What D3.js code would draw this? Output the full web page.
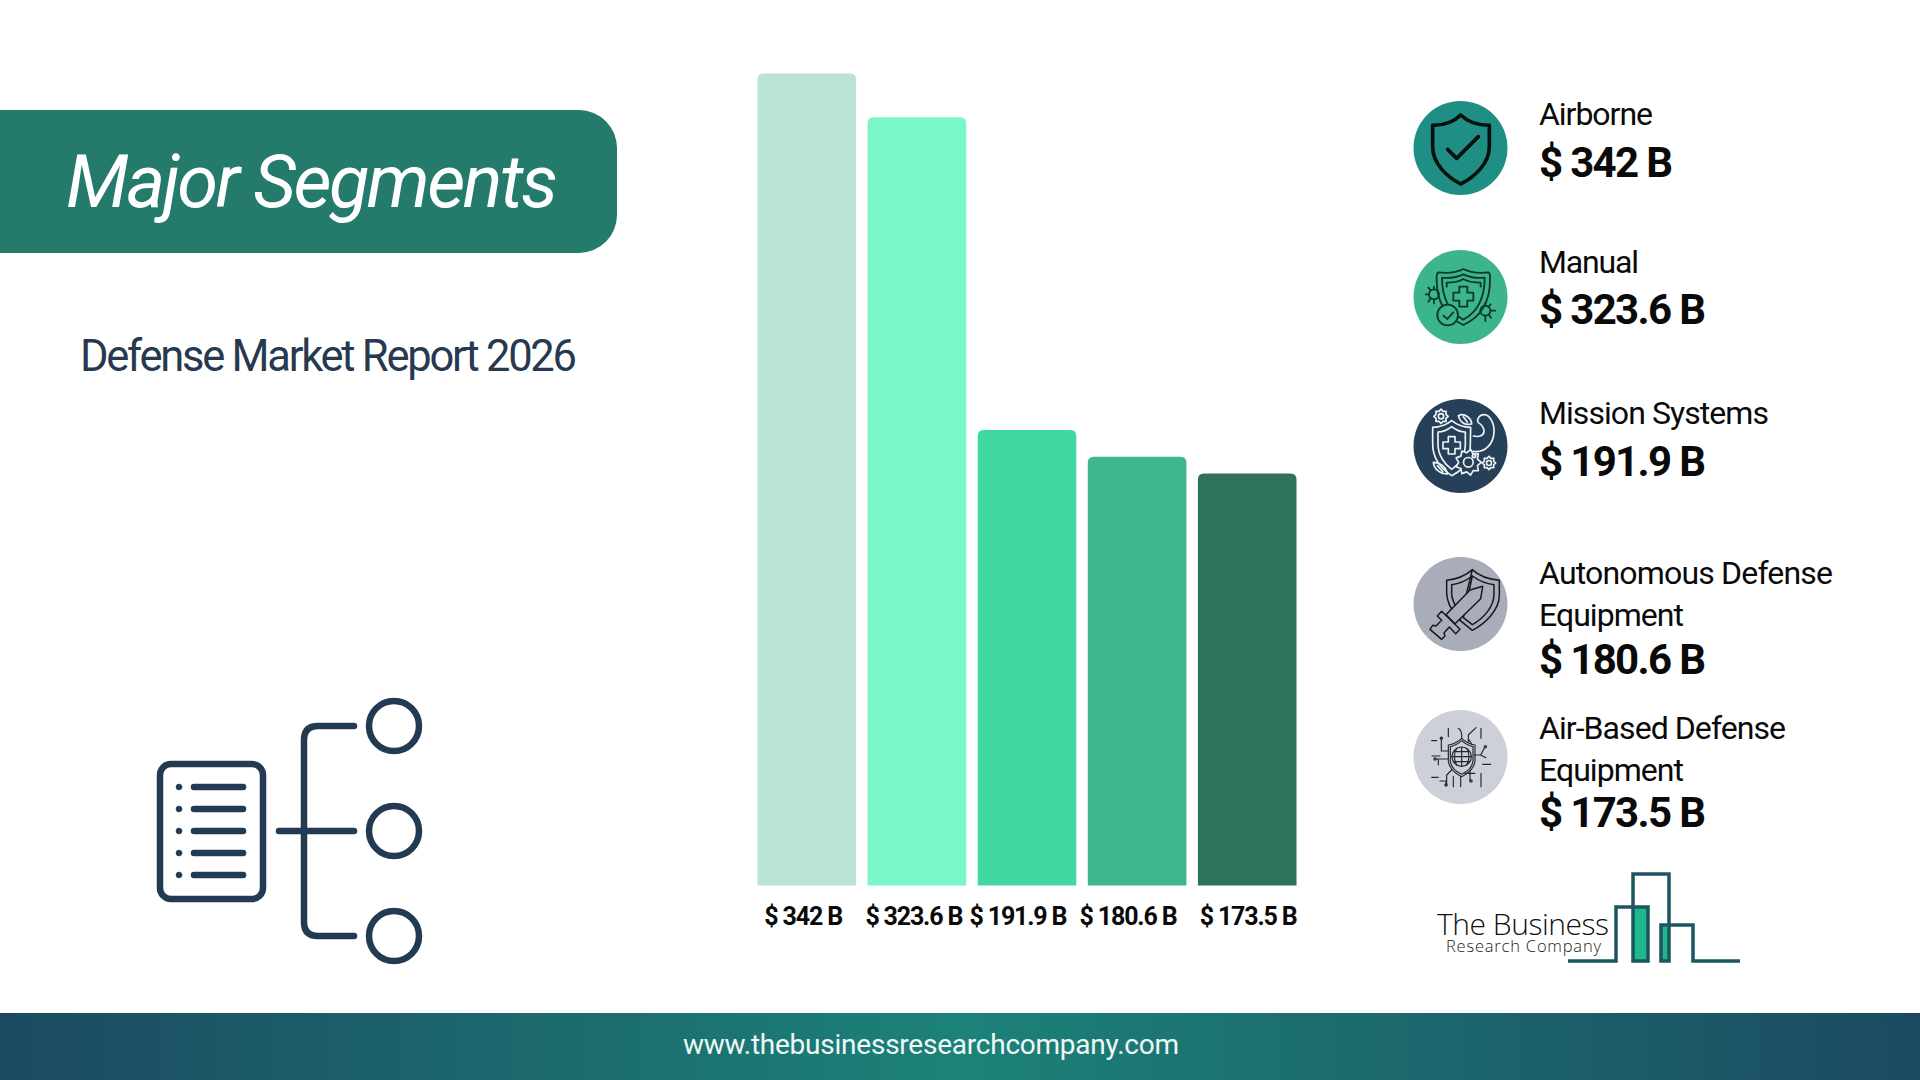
<!DOCTYPE html>
<html>
<head>
<meta charset="utf-8">
<script src="https://cdn.jsdelivr.net/npm/d3@7"></script>
<style>
html,body{margin:0;padding:0;background:#fff;}
svg{display:block;}
text{font-family:Roboto,sans-serif;}
</style>
</head>
<body>
<svg id="chart" width="1920" height="1080"></svg>
<script>
// ---- data ----
const categories = ["Airborne","Manual","Mission Systems","Autonomous Defense Equipment","Air-Based Defense Equipment"];
const values = [342,323.6,191.9,180.6,173.5];
const categoryLines = [["Airborne"],["Manual"],["Mission Systems"],["Autonomous Defense","Equipment"],["Air-Based Defense","Equipment"]];
const barColors = ["#b9e3d3","#7af7c7","#3fd9a0","#3fb68b","#2f725a"];
const titleText = "Major Segments";
const subtitleText = "Defense Market Report 2026";
const footerText = "www.thebusinessresearchcompany.com";

// ---- layout (separate from data) ----
const svg = d3.select("#chart");
const defs = svg.append("defs");
const fmt = v => `$ ${v} B`;
function txt(p,s,x,y,size,weight,fill,len,style){
  const t = p.append("text").attr("x",x).attr("y",y).attr("font-size",size)
    .attr("font-weight",weight).attr("fill",fill).text(s);
  if(len) t.attr("textLength",len).attr("lengthAdjust","spacing");
  if(style) t.attr("font-style",style);
  return t;
}

// footer
const grad = defs.append("linearGradient").attr("id","foot");
[[0,"#1b4a60"],[0.5,"#1c8279"],[1,"#1b4a60"]].forEach(s=>grad.append("stop").attr("offset",s[0]).attr("stop-color",s[1]));
svg.append("rect").attr("x",0).attr("y",1013).attr("width",1920).attr("height",67).attr("fill","url(#foot)");
txt(svg,footerText,683,1054,28,400,"#eef8f6",496);

// title pill
svg.append("rect").attr("x",-60).attr("y",110).attr("width",677).attr("height",143).attr("rx",38).attr("fill","#257b6b");
txt(svg,titleText,66,207,74,400,"#ffffff",492,"italic");
txt(svg,subtitleText,80,371,43.5,400,"#26394f",497);

// list-tree icon
const ic = svg.append("g").attr("fill","none").attr("stroke","#223a52").attr("stroke-width",6.5).attr("stroke-linecap","round");
ic.append("rect").attr("x",160).attr("y",764).attr("width",103).attr("height",135).attr("rx",11);
d3.range(5).forEach(i=>{
  const y=787+22*i;
  ic.append("line").attr("x1",194).attr("x2",243).attr("y1",y).attr("y2",y);
  ic.append("circle").attr("cx",179).attr("cy",y).attr("r",3).attr("fill","#223a52").attr("stroke-width",0.5);
});
ic.append("path").attr("d","M354 726 H318 Q304 726 304 740 V922 Q304 936 318 936 H354");
ic.append("path").attr("d","M279 831 H354");
[726,831,936].forEach(y=>ic.append("circle").attr("cx",394).attr("cy",y).attr("r",25).attr("stroke-width",6.5));

// bars
const x = d3.scaleBand().domain(categories).range([757.5,1296.5]).paddingInner(0.1045).paddingOuter(0);
const y = d3.scaleLinear().domain([0,342]).range([885.5,73.5]);
const barPath = (d)=>{
  const x0=x(d.c), w=x.bandwidth(), t=y(d.v), b=y(0), r=6;
  const p=d3.path();
  p.moveTo(x0,b); p.lineTo(x0,t+r); p.quadraticCurveTo(x0,t,x0+r,t);
  p.lineTo(x0+w-r,t); p.quadraticCurveTo(x0+w,t,x0+w,t+r); p.lineTo(x0+w,b); p.closePath();
  return p.toString();
};
const rows = categories.map((c,i)=>({c,v:values[i],col:barColors[i]}));
svg.append("g").selectAll("path").data(rows).join("path").attr("d",barPath).attr("fill",d=>d.col);

// value axis labels
const labelDx = [-3,-2.5,-8.5,-8.5,1.5];
const labelLen = [79,98,98,98,98];
const ax = svg.append("g").attr("transform","translate(0,885.5)")
  .call(d3.axisBottom(x).tickSize(0).tickPadding(0).tickFormat((c,i)=>fmt(values[i])));
ax.select(".domain").remove();
ax.selectAll("text").attr("font-family","Roboto,sans-serif").attr("font-size",25).attr("font-weight",700).attr("fill","#0a0a0a")
  .attr("y",39.5).attr("dy",0).attr("dx",(d,i)=>labelDx[i])
  .attr("textLength",(d,i)=>labelLen[i]).attr("lengthAdjust","spacing");

// legend
const circleY=[148,297,446,604,757];
const circleFill=["#1f8f85","#3cb58a","#264059","#a9adba","#cdcfd9"];
const lineBase=[[125],[273],[424],[584,626],[739,781]];
const lineLen=[[114],[100],[230],[294,145],[247,145]];
const valBase=[177,324,476,674,827];
const valLen=[134,167,167,167,167];
categories.forEach((c,i)=>{
  svg.append("circle").attr("cx",1460.5).attr("cy",circleY[i]).attr("r",47).attr("fill",circleFill[i]);
  categoryLines[i].forEach((s,j)=>txt(svg,s,1539,lineBase[i][j],32,400,"#0a0a0a",lineLen[i][j]));
  txt(svg,fmt(values[i]),1539,valBase[i],42,700,"#0a0a0a",valLen[i]);
});

// icons (drawn in 3x crop coordinates)
function icon(cx,cy,stroke,sw){
  return svg.append("g").attr("transform",`translate(${cx},${cy}) scale(${1/3})`)
    .attr("fill","none").attr("stroke",stroke).attr("stroke-width",sw).attr("stroke-linejoin","round").attr("stroke-linecap","round");
}
function gear(g,cx,cy,r,n,fill){
  const pts=[];
  for(let k=0;k<n*2;k++){const a=k*Math.PI/n, R=k%2?r:r*1.35; pts.push([cx+R*Math.cos(a),cy+R*Math.sin(a)]);}
  g.append("path").attr("d",d3.line().curve(d3.curveLinearClosed)(pts)).attr("fill",fill||"none");
  g.append("circle").attr("cx",cx).attr("cy",cy).attr("r",r*0.5);
}
// 1 shield + check
const i1=icon(1380,80,"#06100f",11);
i1.append("path").attr("d","M242 105 C218 130 190 136 158 136 L158 200 C158 250 200 290 242 312 C285 290 328 250 328 200 L328 136 C295 136 268 130 242 105 Z");
i1.append("path").attr("d","M203 208 L230 235 L295 170");
// 2 shield + bugs
const i2=icon(1410,245,"#0b3a2c",5.5);
i2.append("path").attr("d","M160 72 C135 85 110 85 85 82 C78 85 80 95 80 105 C80 165 105 215 160 240 C215 215 240 165 240 105 C240 95 242 85 235 82 C210 85 185 85 160 72 Z");
i2.append("path").attr("d","M160 88 C140 98 118 100 96 98 C96 160 120 202 160 224 C200 202 224 160 224 98 C202 100 180 98 160 88 Z");
i2.append("path").attr("d","M110 125 L110 113 C135 113 150 108 160 102 C170 108 185 113 212 113 L212 125");
i2.append("path").attr("d","M148 125 H172 V143 H190 V167 H172 V185 H148 V167 H130 V143 H148 Z");
i2.append("circle").attr("cx",72).attr("cy",148).attr("r",15);
i2.append("path").attr("d","M47 148 H56 M55 128 L62 136 M55 170 L62 160 M72 125 V133 M72 163 V175");
i2.append("circle").attr("cx",226).attr("cy",197).attr("r",15);
i2.append("path").attr("d","M256 197 H242 M242 178 L235 186 M243 218 L236 208 M226 173 V182 M226 212 V228");
i2.append("circle").attr("cx",113).attr("cy",210).attr("r",31).attr("fill","#3cb58a");
i2.append("path").attr("d","M100 212 L112 222 L130 202");
// 3 shield, arm, gears (light lines)
const i3=icon(1410,394,"#eef3f5",5);
i3.append("path").attr("d","M190 172 C225 178 250 150 252 115 C254 90 240 62 222 62 C208 62 200 75 204 85 C215 92 222 100 222 112 C222 125 208 130 190 126");
i3.append("path").attr("d","M125 80 C105 96 90 100 68 100 L68 150 C68 195 95 225 125 245 C150 232 170 215 180 190 L182 100 C160 100 145 96 125 80 Z");
i3.append("path").attr("d","M125 98 C110 110 98 114 84 114 L84 150 C84 185 105 212 125 226 C145 212 166 190 166 150 L166 114 C152 114 140 110 125 98 Z");
i3.append("path").attr("d","M115 128 H135 V144 H151 V164 H135 V180 H115 V164 H99 V144 H115 Z");
gear(i3,93,67,16,8);
gear(i3,237,207,15,8);
gear(i3,175,205,29,9,"#264059");
i3.append("circle").attr("cx",192).attr("cy",186).attr("r",5);
i3.append("path").attr("d","M145 65 C165 55 185 75 185 90 C165 95 150 85 145 65 Z M160 68 L172 84 M70 205 C90 205 110 220 112 240 C90 240 72 225 70 205 Z M82 215 L98 232");
// 4 shield + sword
const i4=icon(1410,552,"#16181c",4.5);
i4.append("path").attr("d","M187 53 C168 70 140 82 110 85 L110 125 C112 150 122 170 135 185 M150 205 L187 235 C225 215 268 175 268 130 L268 85 C235 82 205 70 187 53 Z");
i4.append("path").attr("d","M187 72 C170 85 145 96 125 98 L125 130 C128 145 133 158 142 170 M160 197 L187 218 C220 200 252 165 252 125 L252 98 C230 96 205 85 187 72 Z");
i4.append("path").attr("d","M218 103 L180 114 L108 188 L135 215 L212 140 Z").attr("fill","#a9adba");
i4.append("path").attr("d","M95 178 L150 232 L137 245 L118 225 L102 243 L105 252 L95 262 L60 232 L68 220 L78 222 L95 205 L82 192 Z").attr("fill","#a9adba");
// 5 circuit globe
const i5=icon(1410,705,"#26282c",3.5);
i5.append("path").attr("d","M155 100 C142 112 128 118 115 120 L115 165 C115 190 135 205 155 215 C175 205 195 190 195 165 L195 120 C182 118 168 112 155 100 Z");
i5.append("path").attr("d","M155 107 C144 117 132 123 121 125 L121 165 C121 186 138 200 155 208 C172 200 189 186 189 165 L189 125 C178 123 166 117 155 107 Z");
i5.append("circle").attr("cx",155).attr("cy",155).attr("r",29);
i5.append("path").attr("d","M126 155 H184 M131 140 H179 M131 170 H179 M155 126 V184 M140 130 C132 145 132 165 140 180 M170 130 C178 145 178 165 170 180");
i5.append("path").attr("d","M115 70 V95 M145 70 C158 78 155 90 155 100 M198 68 L175 90 V110 M213 70 V100 M65 107 H80 M94 100 V138 H115 M66 153 H90 M75 162 H115 M85 162 V180 M192 150 H212 M212 150 L225 125 M212 150 L228 158 M218 178 H242 M65 217 H85 M90 228 H108 V240 M110 240 V210 L125 195 M130 245 V215 M152 245 V215 M180 195 V228 M165 205 L195 205 M213 205 V245 M178 105 L185 118");
[[94,100],[75,162],[108,240],[183,228],[226,125]].forEach(p=>i5.append("circle").attr("cx",p[0]).attr("cy",p[1]).attr("r",3.5));

// logo
const lg=svg.append("g");
lg.append("rect").attr("x",1633).attr("y",907).attr("width",15).attr("height",54).attr("fill","#1fb88a");
lg.append("rect").attr("x",1661).attr("y",925).attr("width",8).attr("height",36).attr("fill","#1fb88a");
lg.append("path").attr("fill","none").attr("stroke","#1d5563").attr("stroke-width",3.5)
  .attr("d","M1568 961 H1616 V907 H1648 V961 H1633 V874 H1669 V961 H1661 V925 H1693 V961 H1740");
txt(lg,"The Business",1437,935,30,300,"#111",172).style("font-family","'Open Sans',sans-serif");
txt(lg,"Research Company",1446,952,16.5,300,"#222",155).style("font-family","'Open Sans',sans-serif");
</script>
</body>
</html>
